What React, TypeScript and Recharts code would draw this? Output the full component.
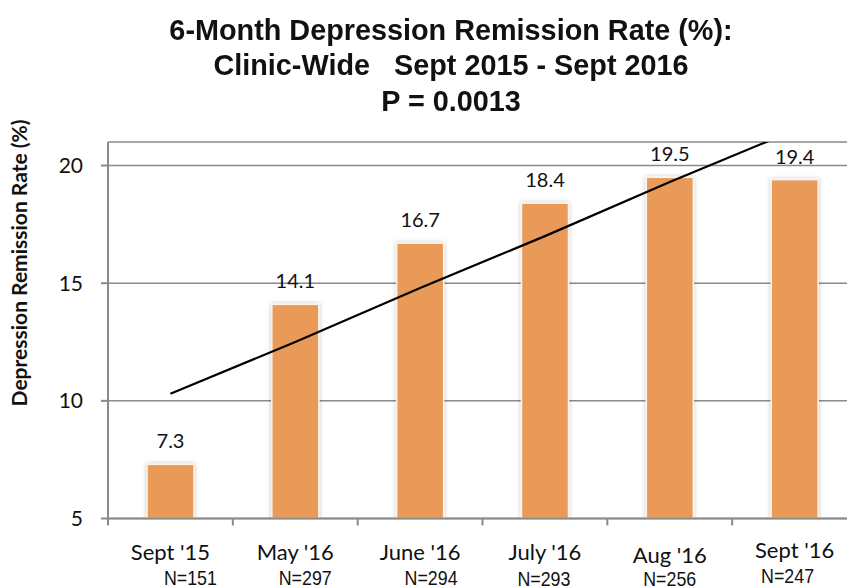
import { Bar, CartesianGrid, ComposedChart, LabelList, Line, XAxis, YAxis } from 'recharts';

const categories = ["Sept '15", "May '16", "June '16", "July '16", "Aug '16", "Sept '16"];
const sampleSizes = ['N=151', 'N=297', 'N=294', 'N=293', 'N=256', 'N=247'];
const remissionRates = [7.3, 14.1, 16.7, 18.4, 19.5, 19.4];
const trendValues = [10.3, 12.5, 14.8, 17.0, 19.3, 21.5];
const yTicks = [5, 10, 15, 20];

const rows = categories.map((c, i) => ({
  month: c,
  n: sampleSizes[i],
  rate: remissionRates[i],
  trend: trendValues[i],
}));

// chart geometry
const CHART_W = 862;
const CHART_H = 588;
const PLOT_LEFT = 108;
const PLOT_TOP = 142;
const PLOT_RIGHT = 857;
const PLOT_BOTTOM = 518.5;
const BAND = (PLOT_RIGHT - PLOT_LEFT) / categories.length;

const AXIS_GRAY = '#8a8a8a';
const BAR_FILL = '#e99a58';
const TEXT = '#111';
const BODY_FONT = 'Lato, "Open Sans", sans-serif';
const ARIAL = '"Liberation Sans", Arial, sans-serif';

// small per-label nudges to follow the original's loose label placement
const catDy = [0, 0, 0, 0, 3, -2];
const nDx = [20, 10, 11, -1, 0, -7];
const nDy = [0, 0, 0, 1, 1, -2];

function MonthTick({ x, index }: { x?: number; index?: number }) {
  const i = index ?? 0;
  const cx = x ?? 0;
  return (
    <g>
      {i === 0 ? (
        <line x1={cx - BAND / 2} x2={cx - BAND / 2} y1={PLOT_BOTTOM} y2={PLOT_BOTTOM + 7} stroke={AXIS_GRAY} strokeWidth={2} />
      ) : null}
      <line x1={cx + BAND / 2} x2={cx + BAND / 2} y1={PLOT_BOTTOM} y2={PLOT_BOTTOM + 7} stroke={AXIS_GRAY} strokeWidth={2} />
      <text x={cx} y={PLOT_BOTTOM + 41 + catDy[i]} textAnchor="middle" fill={TEXT} style={{ fontFamily: BODY_FONT, fontSize: 22 }}>
        {categories[i]}
      </text>
      <text
        x={cx + nDx[i]}
        y={PLOT_BOTTOM + 66 + nDy[i]}
        textAnchor="middle"
        fill={TEXT}
        textLength={53}
        lengthAdjust="spacingAndGlyphs"
        style={{ fontFamily: ARIAL, fontSize: 21 }}
      >
        {sampleSizes[i]}
      </text>
    </g>
  );
}

function ShadowBar(props: { x?: number; y?: number; width?: number; height?: number }) {
  const { x = 0, y = 0, width = 0, height = 0 } = props;
  return (
    <rect x={x} y={y} width={width} height={height} fill={BAR_FILL} stroke="#fdf3ea" strokeWidth={1.5} filter="url(#barShadow)" />
  );
}

function YTitle() {
  const cx = 18;
  const cy = 263;
  return (
    <text
      x={cx}
      y={cy}
      transform={`rotate(-90 ${cx} ${cy})`}
      textAnchor="middle"
      dominantBaseline="central"
      fill={TEXT}
      style={{ fontFamily: BODY_FONT, fontSize: 21, fontWeight: 700 }}
    >
      Depression Remission Rate (%)
    </text>
  );
}

const titleLine = {
  position: 'absolute' as const,
  left: 0,
  width: 902,
  textAlign: 'center' as const,
  fontFamily: ARIAL,
  fontWeight: 700,
  fontSize: 30,
  color: TEXT,
  lineHeight: '34px',
  whiteSpace: 'pre' as const,
  transform: 'scaleX(0.96)',
  transformOrigin: '451px 0',
};

export default function App() {
  return (
    <div
      style={{
        position: 'absolute',
        left: 0,
        top: 0,
        width: 847,
        height: 588,
        overflow: 'hidden',
        background: '#fff',
      }}
    >
      <div style={{ ...titleLine, top: 12.6 }}>6-Month Depression Remission Rate (%):</div>
      <div style={{ ...titleLine, top: 47.6 }}>{'Clinic-Wide   Sept 2015 - Sept 2016'}</div>
      <div style={{ ...titleLine, top: 84.3 }}>P = 0.0013</div>
      <div style={{ position: 'absolute', left: 0, top: 0 }}>
        <ComposedChart
          width={CHART_W}
          height={CHART_H}
          data={rows}
          margin={{ top: PLOT_TOP, right: CHART_W - PLOT_RIGHT, bottom: 0, left: 0 }}
        >
          <defs>
            <filter id="barShadow" x="-30%" y="-10%" width="160%" height="120%">
              <feDropShadow dx={0} dy={0} stdDeviation={2} floodColor="#000" floodOpacity={0.25} />
            </filter>
          </defs>
          <CartesianGrid vertical={false} stroke={AXIS_GRAY} strokeWidth={1.5} />
          <XAxis
            dataKey="month"
            height={CHART_H - PLOT_BOTTOM}
            axisLine={{ stroke: AXIS_GRAY, strokeWidth: 2 }}
            tickLine={false}
            tick={<MonthTick />}
            interval={0}
          />
          <YAxis
            type="number"
            domain={[5, 21]}
            ticks={yTicks}
            allowDataOverflow
            width={PLOT_LEFT}
            tickSize={7}
            tickMargin={18}
            axisLine={{ stroke: AXIS_GRAY, strokeWidth: 2 }}
            tickLine={{ stroke: AXIS_GRAY, strokeWidth: 2 }}
            tick={{ fill: TEXT, fontFamily: BODY_FONT, fontSize: 21 }}
            label={<YTitle />}
          />
          <Bar dataKey="rate" barSize={47} isAnimationActive={false} shape={<ShadowBar />}>
            <LabelList
              dataKey="rate"
              position="top"
              offset={16}
              formatter={(v: number) => v.toFixed(1)}
              style={{ fill: TEXT, fontFamily: BODY_FONT, fontSize: 20 }}
            />
          </Bar>
          <Line
            dataKey="trend"
            stroke="#000"
            strokeWidth={2.2}
            dot={false}
            activeDot={false}
            isAnimationActive={false}
          />
        </ComposedChart>
      </div>
    </div>
  );
}
